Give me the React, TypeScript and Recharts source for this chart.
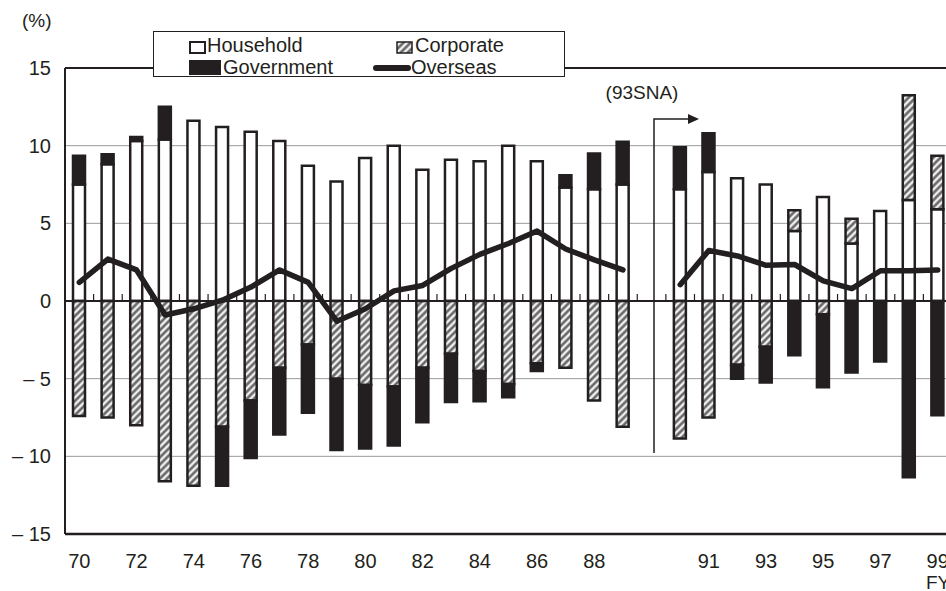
import { ComposedChart, Bar, Line, XAxis, YAxis, CartesianGrid, ReferenceLine, Legend } from 'recharts';

const years = [
  '70', '71', '72', '73', '74', '75', '76', '77', '78', '79',
  '80', '81', '82', '83', '84', '85', '86', '87', '88', '89',
  '',
  '90', '91', '92', '93', '94', '95', '96', '97', '98', '99',
];

const household = [
  7.5, 8.8, 10.3, 10.4, 11.6, 11.2, 10.9, 10.3, 8.7, 7.7,
  9.2, 10.0, 8.45, 9.1, 9.0, 10.0, 9.0, 7.3, 7.2, 7.5,
  null,
  7.2, 8.3, 7.9, 7.5, 4.5, 6.7, 3.7, 5.8, 6.5, 5.9,
];

const corporate = [
  -7.4, -7.5, -8.0, -11.6, -11.9, -8.1, -6.4, -4.3, -2.8, -5.0,
  -5.4, -5.5, -4.3, -3.4, -4.5, -5.35, -4.0, -4.3, -6.4, -8.1,
  null,
  -8.85, -7.5, -4.1, -2.95, 1.35, -0.85, 1.6, null, 6.75, 3.45,
];

const government = [
  1.85, 0.65, 0.25, 2.1, null, -3.8, -3.7, -4.3, -4.4, -4.6,
  -4.1, -3.8, -3.5, -3.1, -1.95, -0.85, -0.5, 0.8, 2.3, 2.75,
  null,
  2.7, 2.5, -0.9, -2.3, -3.5, -4.7, -4.6, -3.9, -11.35, -7.35,
];

const overseas = [
  1.2, 2.7, 2.0, -0.9, -0.5, 0.05, 0.9, 2.0, 1.2, -1.3,
  -0.5, 0.65, 1.0, 2.1, 3.0, 3.7, 4.5, 3.35, 2.65, 2.0,
  null,
  1.05, 3.25, 2.9, 2.3, 2.35, 1.3, 0.8, 1.95, 1.95, 2.0,
];

const shownLabels = ['70', '72', '74', '76', '78', '80', '82', '84', '86', '88', '91', '93', '95', '97', '99'];
const yTicks = [-15, -10, -5, 0, 5, 10, 15];

const data = years.map((year, i) => ({
  year,
  household: household[i],
  corporate: corporate[i],
  government: government[i],
  overseas: overseas[i],
}));

const CHART_W = 1000;
const CHART_H = 591;
const PLOT_LEFT = 65;
const PLOT_RIGHT = 952;
const PLOT_TOP = 68;
const PLOT_BOTTOM = 534;
const ZERO_Y = (PLOT_TOP + PLOT_BOTTOM) / 2;
const BAND = (PLOT_RIGHT - PLOT_LEFT) / years.length;
const INK = '#231f20';
const FONT = "'Liberation Sans', Arial, sans-serif";

function XTick(props: any) {
  const { x, payload } = props;
  const edge = x + BAND / 2;
  return (
    <g>
      <line x1={edge} x2={edge} y1={ZERO_Y} y2={ZERO_Y - 7} stroke={INK} strokeWidth={1.2} />
      {shownLabels.includes(payload.value) && (
        <text x={x} y={568} textAnchor="middle" fontSize={20} fill={INK} fontFamily={FONT}>
          {payload.value}
        </text>
      )}
    </g>
  );
}

function LegendBox() {
  const text = { position: 'absolute' as const, fontSize: 20, lineHeight: '20px', color: INK, fontFamily: FONT };
  return (
    <div style={{ position: 'relative', width: 412, height: 46, border: `1px solid ${INK}`, background: '#fff', boxSizing: 'border-box' }}>
      <div style={{ position: 'absolute', left: 35, top: 9, width: 13, height: 9, border: `2px solid ${INK}`, background: '#fff' }} />
      <div style={{ ...text, left: 53, top: 3 }}>Household</div>
      <div style={{ position: 'absolute', left: 35, top: 28, width: 32, height: 15, background: INK }} />
      <div style={{ ...text, left: 69, top: 25 }}>Government</div>
      <svg style={{ position: 'absolute', left: 242, top: 9 }} width={17} height={13}>
        <rect x={1} y={1} width={15} height={11} fill="url(#hatch)" stroke={INK} strokeWidth={1.5} />
      </svg>
      <div style={{ ...text, left: 261, top: 3 }}>Corporate</div>
      <div style={{ position: 'absolute', left: 219, top: 33, width: 38, height: 6, borderRadius: 3, background: INK }} />
      <div style={{ ...text, left: 257, top: 25 }}>Overseas</div>
    </div>
  );
}

export default function App() {
  return (
    <div style={{ position: 'fixed', left: 0, top: 0, width: 946, height: 591, overflow: 'hidden', background: '#fff', fontFamily: FONT }}>
      <ComposedChart
        width={CHART_W}
        height={CHART_H}
        data={data}
        stackOffset="sign"
        barSize={12}
        margin={{ top: PLOT_TOP, right: CHART_W - PLOT_RIGHT, bottom: 17, left: 15 }}
      >
        <defs>
          <pattern id="hatch" patternUnits="userSpaceOnUse" width={5} height={5} patternTransform="rotate(45)">
            <rect width={5} height={5} fill="#f0f0f0" />
            <line x1={1.5} y1={0} x2={1.5} y2={5} stroke="#5e5e5e" strokeWidth={2.4} />
          </pattern>
        </defs>
        <CartesianGrid vertical={false} stroke="#9a9a9a" strokeWidth={1} />
        <XAxis
          dataKey="year"
          interval={0}
          height={40}
          tickLine={false}
          axisLine={{ stroke: INK, strokeWidth: 2.5 }}
          tick={(p: any) => <XTick {...p} />}
        />
        <YAxis
          width={50}
          domain={[-15, 15]}
          ticks={yTicks}
          tickLine={false}
          tickSize={0}
          tickMargin={14}
          axisLine={{ stroke: INK, strokeWidth: 2 }}
          tick={{ fontSize: 20, fill: INK, fontFamily: FONT }}
          tickFormatter={(v: number) => (v < 0 ? `– ${-v}` : `${v}`)}
        />
        <ReferenceLine y={15} stroke={INK} strokeWidth={2} />
        <Bar dataKey="household" name="Household" stackId="s" fill="#fff" stroke={INK} strokeWidth={2.5} isAnimationActive={false} />
        <Bar dataKey="corporate" name="Corporate" stackId="s" fill="url(#hatch)" stroke={INK} strokeWidth={2.5} isAnimationActive={false} />
        <Bar dataKey="government" name="Government" stackId="s" fill={INK} stroke={INK} strokeWidth={2.5} isAnimationActive={false} />
        <ReferenceLine y={0} stroke={INK} strokeWidth={2} />
        <Line
          dataKey="overseas"
          name="Overseas"
          type="linear"
          stroke={INK}
          strokeWidth={5.5}
          strokeLinejoin="round"
          strokeLinecap="round"
          dot={false}
          activeDot={false}
          isAnimationActive={false}
        />
        <Legend
          layout="horizontal"
          verticalAlign="middle"
          align="center"
          content={() => <LegendBox />}
          wrapperStyle={{ top: 31, left: 153, width: 412, height: 46 }}
        />
      </ComposedChart>
      <svg style={{ position: 'absolute', left: 0, top: 0 }} width={946} height={591}>
        <text x={22} y={27} fontSize={19} fill={INK} fontFamily={FONT}>(%)</text>
        <text x={642} y={99} fontSize={19} fill={INK} fontFamily={FONT} textAnchor="middle">(93SNA)</text>
        <polyline points="654,453 654,119 690,119" fill="none" stroke={INK} strokeWidth={1.5} />
        <polygon points="688,114 699,119 688,124" fill={INK} />
        <text x={926} y={589} fontSize={19} fill={INK} fontFamily={FONT}>FY</text>
      </svg>
    </div>
  );
}
